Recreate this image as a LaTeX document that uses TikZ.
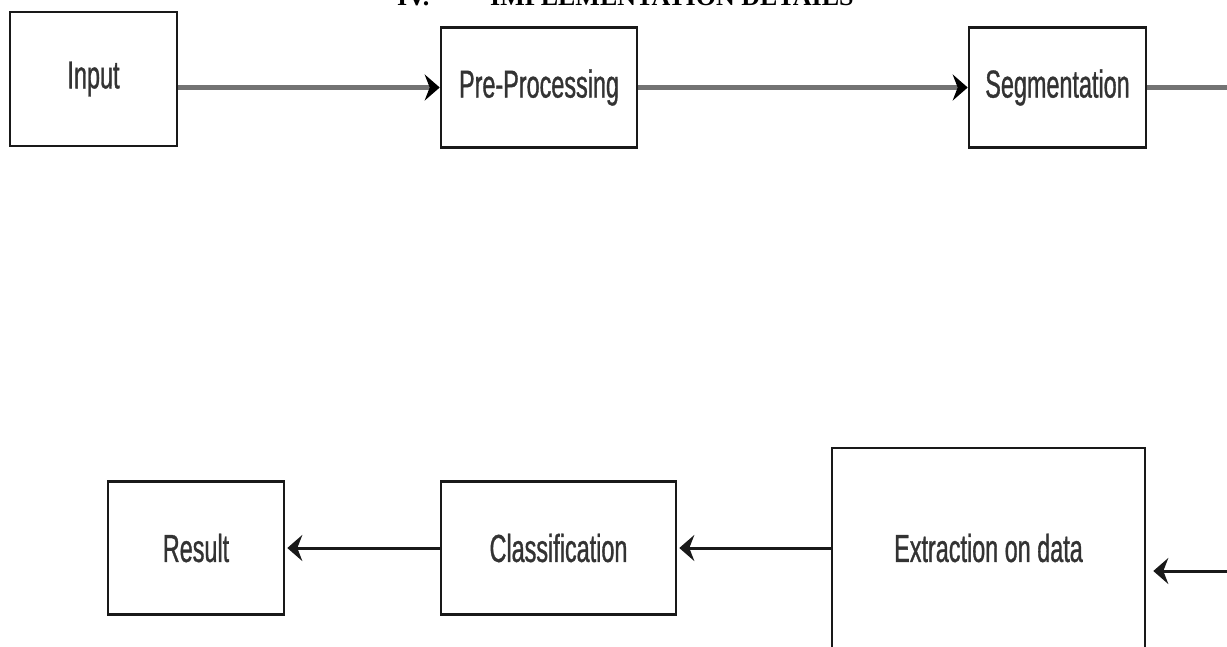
\documentclass[tikz,border=0pt]{standalone}
\usepackage{fontspec}
\usepackage{xcolor}
\usepackage{tikz}
\usetikzlibrary{arrows.meta, positioning, calc}

\newfontfamily\boxfont{Liberation Sans}[FakeStretch=0.6, FakeBold=0.8]
\newfontfamily\headfont{Liberation Serif}

\begin{document}
\begin{tikzpicture}[
  x=1pt, y=-1pt,
  box/.style={draw=black!90, line width=2.6pt, fill=white, align=center, text=black!80,
    font=\boxfont\fontsize{39}{45}\selectfont, inner sep=0pt},
  topline/.style={line width=5pt, draw=black!55},
  toparrow/.style={topline, -{Stealth[length=15pt, width=26pt, inset=5pt, color=black]}},
  arrow/.style={-{Stealth[length=15pt, width=26pt, inset=5pt]}, line width=3pt, draw=black!90}
]
  \useasboundingbox (0,0) rectangle (1227,646);
  \clip (0,0) rectangle (1227,646);

  % Heading (cut by the top edge)
  \node[font=\headfont\bfseries\fontsize{26}{30}\selectfont, anchor=base west, inner sep=0pt] (head)
    at (397,5) {IV.\hspace{61pt}IMPLEMENTATION DETAILS};

  % Top row (Left to right)
  \node[box, minimum width=167pt, minimum height=134pt] (input) at (93.5,79) {Input};
  \node[box, minimum width=196pt, minimum height=120pt] (pre) at (539,87.5) {Pre-Processing};
  \node[box, minimum width=177pt, minimum height=120pt] (seg) at (1057.5,87.5) {Segmentation};
  \coordinate (segend) at (1232,87.5);
  \draw[toparrow] (input.east |- pre.west) -- (pre.west);
  \draw[toparrow] (pre.east) -- (seg.west);
  \draw[topline] (seg.east) -- (segend);

  % Bottom row (Right to left)
  \node[box, minimum width=313pt, minimum height=200pt] (extr) at (988.5,548) {Extraction on data};
  \node[box, minimum width=235pt, minimum height=133pt] (cls) at (558.5,548) {Classification};
  \node[box, minimum width=176pt, minimum height=133pt] (res) at (196,548) {Result};
  \coordinate (extrin) at (1232,571);
  \draw[arrow, shorten >=7pt] (extrin) -- (extr.east |- extrin);
  \draw[arrow, shorten >=2pt] (extr.west) -- (cls.east);
  \draw[arrow, shorten >=2pt] (cls.west) -- (res.east);

\end{tikzpicture}
\end{document}
